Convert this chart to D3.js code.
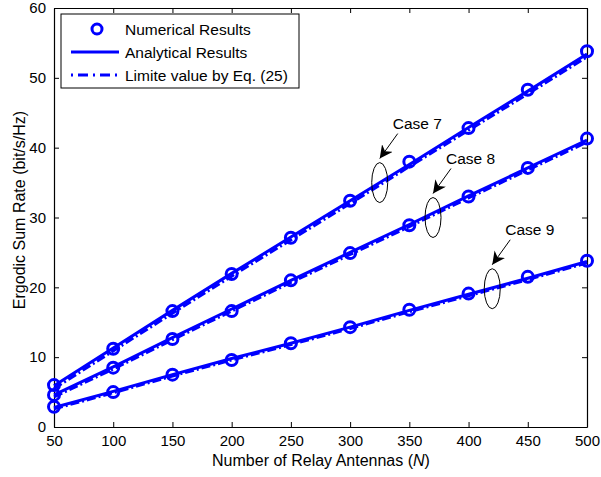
<!DOCTYPE html>
<html>
<head>
<meta charset="utf-8">
<script src="https://cdn.jsdelivr.net/npm/d3@7"></script>
<style>
  html, body { margin: 0; padding: 0; background: #fff; overflow: hidden; }
  svg { display: block; }
  text { font-family: "Liberation Sans", Arial, sans-serif; }
</style>
<script>
// relay antenna counts
let antennas = [50, 100, 150, 200, 250, 300, 350, 400, 450, 500];

// numerical (simulated) results
let numCase7 = [6.0, 11.2, 16.6, 21.9, 27.1, 32.4, 38.0, 42.8, 48.3, 53.8];
let numCase8 = [4.6, 8.5, 12.6, 16.6, 21.0, 24.9, 28.9, 33.0, 37.1, 41.3];
let numCase9 = [2.9, 5.0, 7.5, 9.6, 12.0, 14.3, 16.8, 19.1, 21.5, 23.8];

// analytical results
let anaCase7 = [5.9, 11.3, 16.7, 22.0, 27.2, 32.4, 37.6, 42.9, 48.1, 53.4];
let anaCase8 = [4.6, 8.6, 12.8, 16.9, 21.0, 25.0, 29.0, 33.1, 37.1, 41.1];
let anaCase9 = [2.8, 5.1, 7.5, 9.8, 12.0, 14.3, 16.7, 19.0, 21.3, 23.7];

// limit value by Eq. (25)
let limCase7 = [5.5, 10.9, 16.3, 21.6, 26.8, 32.0, 37.3, 42.5, 47.7, 53.0];
let limCase8 = [4.3, 8.3, 12.5, 16.6, 20.7, 24.7, 28.7, 32.8, 36.8, 40.8];
let limCase9 = [2.6, 4.9, 7.3, 9.6, 11.8, 14.1, 16.5, 18.8, 21.1, 23.5];

let xTicks = [50, 100, 150, 200, 250, 300, 350, 400, 450, 500];
let yTicks = [0, 10, 20, 30, 40, 50, 60];

let legendLabels = ["Numerical Results", "Analytical Results", "Limite value by Eq. (25)"];

// annotations: label and ellipse centre in data coords
let caseNotes = [
  {label: "Case 7", n: 325, r: 35.0},
  {label: "Case 8", n: 370, r: 30.0},
  {label: "Case 9", n: 420, r: 19.8}
];

let blue = "#0000ff";

function draw() {
  let svg = d3.select("body").append("svg")
    .attr("width", 601)
    .attr("height", 477);

  let margin = {top: 8, right: 14, bottom: 50, left: 54};
  let innerWidth = 601 - margin.left - margin.right;
  let innerHeight = 477 - margin.top - margin.bottom;

  let scaleX = d3.scaleLinear().domain([50, 500]).range([0, innerWidth]);
  let scaleY = d3.scaleLinear().domain([0, 60]).range([innerHeight, 0]);

  let g = svg.append("g")
    .attr("transform", `translate(${margin.left}, ${margin.top})`);

  // axes with inward ticks (MATLAB box style)
  let xAxis = d3.axisBottom(scaleX).tickValues(xTicks).tickSizeInner(-5).tickSizeOuter(0).tickPadding(8);
  let yAxis = d3.axisLeft(scaleY).tickValues(yTicks).tickSizeInner(-5).tickSizeOuter(0).tickPadding(8);
  let xTop = d3.axisTop(scaleX).tickValues(xTicks).tickSizeInner(-5).tickSizeOuter(0).tickFormat("");
  let yRight = d3.axisRight(scaleY).tickValues(yTicks).tickSizeInner(-5).tickSizeOuter(0).tickFormat("");

  g.append("g").attr("transform", `translate(0, ${innerHeight})`).call(xAxis);
  g.append("g").call(yAxis);
  g.append("g").call(xTop);
  g.append("g").attr("transform", `translate(${innerWidth}, 0)`).call(yRight);

  g.selectAll(".domain").attr("stroke", "#000").attr("stroke-width", 1.2);
  g.selectAll(".tick line").attr("stroke", "#000");
  g.selectAll(".tick text").attr("font-size", 15).attr("fill", "#000")
    .attr("font-family", "Liberation Sans, Arial, sans-serif");

  // axis labels
  svg.append("text")
    .attr("x", 321)
    .attr("y", 466)
    .attr("text-anchor", "middle")
    .attr("font-size", 16)
    .html("Number of Relay Antennas (<tspan font-style='italic'>N</tspan>)");

  svg.append("text")
    .attr("transform", "translate(25, 210) rotate(-90)")
    .attr("text-anchor", "middle")
    .attr("font-size", 16)
    .text("Ergodic Sum Rate (bit/s/Hz)");

  // series
  let series = [
    {num: numCase7, ana: anaCase7, lim: limCase7},
    {num: numCase8, ana: anaCase8, lim: limCase8},
    {num: numCase9, ana: anaCase9, lim: limCase9}
  ];

  let line = d3.line()
    .x((d, i) => scaleX(antennas[i]))
    .y(d => scaleY(d));

  series.forEach(s => {
    g.append("path") //limit value, dash-dot
      .datum(s.lim)
      .attr("fill", "none")
      .attr("stroke", blue)
      .attr("stroke-width", 3)
      .attr("stroke-dasharray", "9,3,2,3")
      .attr("d", line);

    g.append("path") //analytical, solid
      .datum(s.ana)
      .attr("fill", "none")
      .attr("stroke", blue)
      .attr("stroke-width", 3)
      .attr("d", line);

    g.selectAll(null) //numerical, open circles
      .data(s.num)
      .enter().append("circle")
      .attr("cx", (d, i) => scaleX(antennas[i]))
      .attr("cy", d => scaleY(d))
      .attr("r", 5.5)
      .attr("fill", "none")
      .attr("stroke", blue)
      .attr("stroke-width", 3);
  });

  // annotations: ellipse, arrow, label
  svg.append("defs").append("marker")
    .attr("id", "arrow")
    .attr("viewBox", "0 0 10 10")
    .attr("refX", 10).attr("refY", 5)
    .attr("markerWidth", 13).attr("markerHeight", 13)
    .attr("markerUnits", "userSpaceOnUse")
    .attr("orient", "auto")
    .append("path")
    .attr("d", "M0,0 L10,5 L0,10 L3,5 Z")
    .attr("fill", "#000");

  caseNotes.forEach(c => {
    let cx = scaleX(c.n);
    let cy = scaleY(c.r);
    g.append("ellipse")
      .attr("cx", cx).attr("cy", cy)
      .attr("rx", 8).attr("ry", 20)
      .attr("fill", "none")
      .attr("stroke", "#000")
      .attr("stroke-width", 1);

    g.append("line")
      .attr("x1", cx + 18).attr("y1", cy - 49)
      .attr("x2", cx).attr("y2", cy - 24)
      .attr("stroke", "#000")
      .attr("stroke-width", 1)
      .attr("marker-end", "url(#arrow)");

    g.append("text")
      .attr("x", cx + 13).attr("y", cy - 54)
      .attr("font-size", 15.5)
      .text(c.label);
  });

  // legend
  let lg = svg.append("g").attr("transform", "translate(61, 14)");
  lg.append("rect")
    .attr("width", 238).attr("height", 74)
    .attr("fill", "#fff")
    .attr("stroke", "#000")
    .attr("stroke-width", 1);

  legendLabels.forEach((label, i) => {
    let y = 15 + i * 23;
    if (i === 0) {
      lg.append("circle")
        .attr("cx", 36).attr("cy", y)
        .attr("r", 5).attr("fill", "none")
        .attr("stroke", blue).attr("stroke-width", 3);
    } else {
      lg.append("line")
        .attr("x1", 10).attr("x2", 58)
        .attr("y1", y).attr("y2", y)
        .attr("stroke", blue).attr("stroke-width", 3)
        .attr("stroke-dasharray", i === 2 ? "2,5,10,5" : null);
    }
    lg.append("text")
      .attr("x", 64).attr("y", y + 5.5)
      .attr("font-size", 15.5)
      .text(label);
  });
}

window.addEventListener("DOMContentLoaded", draw);
</script>
</head>
<body>
</body>
</html>
